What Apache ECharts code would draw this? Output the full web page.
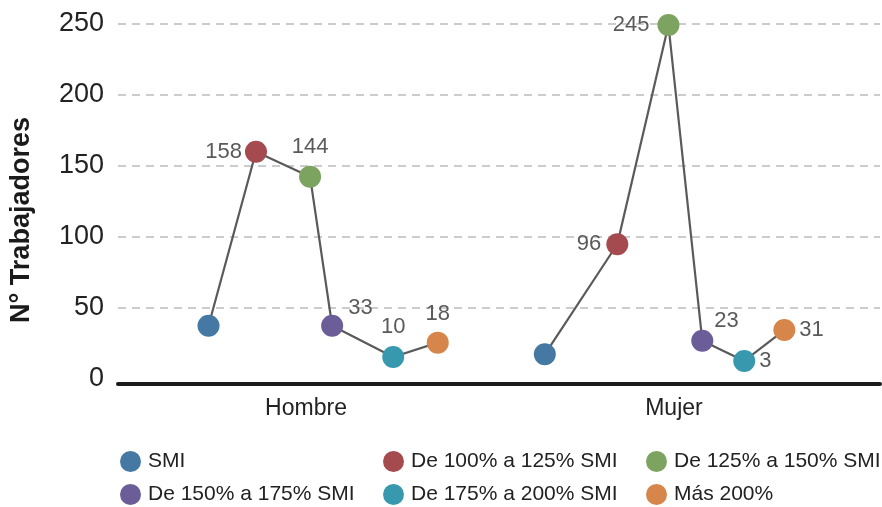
<!DOCTYPE html>
<html>
<head>
<meta charset="utf-8">
<script src="https://cdn.jsdelivr.net/npm/echarts@6/dist/echarts.min.js"></script>
<style>html,body{margin:0;padding:0;background:#fff;}#c{width:882px;height:507px;}</style>
</head>
<body>
<div id="c"></div>
<script>
// ---- data ----
var categories = ['Hombre', 'Mujer'];
var seriesNames = ['SMI', 'De 100% a 125% SMI', 'De 125% a 150% SMI', 'De 150% a 175% SMI', 'De 175% a 200% SMI', 'Más 200%'];
// plotted heights (as drawn in the picture)
var hombreValues = [37.5, 160, 142.5, 37.5, 15.5, 25.6];
var mujerValues = [17.4, 94.9, 249.3, 27, 12.7, 34.5];
// printed labels ('' = none)
var hombreLabels = ['', '158', '144', '33', '10', '18'];
var mujerLabels = ['', '96', '245', '23', '3', '31'];
// horizontal jitter of each point within its category (category width = 1)
var hombreJitter = [-0.265, -0.136, 0.011, 0.071, 0.237, 0.358];
var mujerJitter = [-0.351, -0.154, -0.015, 0.077, 0.191, 0.300];
var yTicks = [0, 50, 100, 150, 200, 250];

// ---- styles ----
var colors = ['#4578a3', '#a54a4f', '#7ca360', '#6a5d98', '#3899ae', '#d6864b'];
var hombreLabelStyle = [
  {}, {position: 'left', distance: 3}, {position: 'top', distance: 8},
  {position: 'right', distance: 0, offset: [0, -18]}, {position: 'top', distance: 8}, {position: 'top', distance: 7}
];
var mujerLabelStyle = [
  {}, {position: 'left', distance: 5}, {position: 'left', distance: 8},
  {position: 'right', distance: 0, offset: [-4, -20]}, {position: 'right', distance: 4}, {position: 'right', distance: 4}
];
var legendSlots = [[120, 451], [383, 451], [646, 451], [120, 484], [383, 484], [646, 484]];
var groups = [
  {center: 0.5, values: hombreValues, labels: hombreLabels, jitter: hombreJitter, lstyle: hombreLabelStyle},
  {center: 1.5, values: mujerValues, labels: mujerLabels, jitter: mujerJitter, lstyle: mujerLabelStyle}
];
var FONT = '"Liberation Sans", Arial, Helvetica, sans-serif';
var yMin = yTicks[0], yMax = yTicks[yTicks.length - 1], yStep = yTicks[1] - yTicks[0];
var plotTop = 24, plotHeight = 355;
var pxPerUnit = plotHeight / (yMax - yMin);

var series = [];
groups.forEach(function (g) {
  series.push({
    type: 'line', silent: true, symbol: 'none', z: 1,
    lineStyle: {color: '#5a5a5a', width: 2.2},
    data: g.values.map(function (v, i) { return [g.center + g.jitter[i], v]; })
  });
});
seriesNames.forEach(function (name, k) {
  series.push({
    type: 'scatter', name: name, z: 3, symbol: 'circle', symbolSize: 22,
    itemStyle: {color: colors[k], opacity: 1},
    data: groups.map(function (g) {
      var ls = g.lstyle[k];
      return {
        value: [g.center + g.jitter[k], g.values[k]],
        label: {
          show: g.labels[k] !== '',
          formatter: g.labels[k],
          position: ls.position || 'top',
          distance: ls.distance || 5,
          offset: ls.offset || [0, 0],
          color: '#5a5a5a', fontSize: 22, fontFamily: FONT
        }
      };
    })
  });
});

var legends = seriesNames.map(function (name, k) {
  return {
    left: legendSlots[k][0], top: legendSlots[k][1], padding: 0,
    orient: 'horizontal',
    itemWidth: 21, itemHeight: 21, itemGap: 0,
    icon: 'circle',
    data: [name],
    textStyle: {color: '#222', fontSize: 21, fontFamily: FONT, padding: [0, 0, 0, 2]}
  };
});

// second (gridline-only) grid: covers yStep..yMax so no dashed line at zero
var gridLineHeight = (yMax - yStep - yMin) * pxPerUnit;

var chart = echarts.init(document.getElementById('c'), null, {renderer: 'canvas'});
chart.setOption({
  animation: false,
  backgroundColor: '#fff',
  grid: [
    {left: 118, right: 2, top: plotTop, height: plotHeight, containLabel: false},
    {left: 118, right: 2, top: plotTop, height: gridLineHeight, containLabel: false}
  ],
  xAxis: [{
    type: 'value', min: -0.011, max: 2.06,
    offset: 5,
    axisLine: {show: true, onZero: false, lineStyle: {color: '#1a1a1a', width: 4}},
    axisTick: {show: false},
    splitLine: {show: false},
    axisLabel: {
      customValues: [0.5, 1.5],
      formatter: function (v) { return categories[Math.round(v - 0.5)]; },
      color: '#222', fontSize: 23, fontFamily: FONT, margin: 13
    }
  }, {
    gridIndex: 1, type: 'value', min: 0, max: 1, show: false
  }],
  yAxis: [{
    type: 'value', min: yMin, max: yMax, interval: yStep,
    axisLine: {show: false}, axisTick: {show: false},
    axisLabel: {color: '#222', fontSize: 27, fontFamily: FONT, margin: 14},
    splitLine: {show: false}
  }, {
    gridIndex: 1, type: 'value', min: yStep, max: yMax, interval: yStep,
    axisLine: {show: false}, axisTick: {show: false}, axisLabel: {show: false},
    splitLine: {show: true, lineStyle: {color: '#cccccc', width: 2, type: [8, 6]}}
  }],
  graphic: [{
    type: 'text', x: 22, y: 220, rotation: Math.PI / 2,
    style: {text: 'N° Trabajadores', fontSize: 27, fontWeight: 'bold', fontFamily: FONT,
      fill: '#1a1a1a', align: 'center', verticalAlign: 'middle'}
  }],
  legend: legends,
  series: series
});
</script>
</body>
</html>
